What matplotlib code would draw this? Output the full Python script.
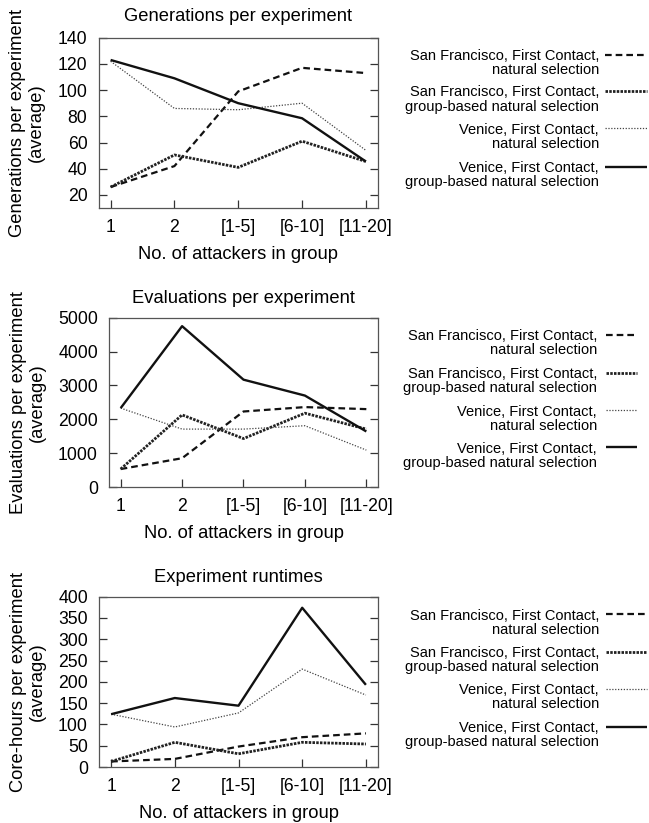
import matplotlib
matplotlib.use("Agg")
import matplotlib.pyplot as plt
from matplotlib.lines import Line2D

plt.rcParams['font.family'] = ['Liberation Sans', 'DejaVu Sans']

categories = ["1", "2", "[1-5]", "[6-10]", "[11-20]"]
series_labels = [
    "San Francisco, First Contact,\nnatural selection",
    "San Francisco, First Contact,\ngroup-based natural selection",
    "Venice, First Contact,\nnatural selection",
    "Venice, First Contact,\ngroup-based natural selection",
]

gen_sf_ns = [26, 42, 99, 117, 113]
gen_sf_gb = [26, 50.5, 41, 61, 45.5]
gen_ve_ns = [122, 86, 85, 90, 54]
gen_ve_gb = [123, 109, 90, 78.5, 45.5]

eval_sf_ns = [530, 850, 2230, 2360, 2300]
eval_sf_gb = [530, 2130, 1430, 2180, 1710]
eval_ve_ns = [2330, 1710, 1710, 1810, 1090]
eval_ve_gb = [2330, 4750, 3170, 2700, 1640]

rt_sf_ns = [13, 19, 48, 70, 79]
rt_sf_gb = [13, 58, 31, 58, 54]
rt_ve_ns = [124, 94, 127, 230, 169]
rt_ve_gb = [124, 162, 144, 374, 193]

styles = [
    dict(color='#111111', lw=1.6, linestyle=(0, (3.0, 1.8))),
    dict(color='#222222', lw=2.0, linestyle=(0, (0.9, 0.45))),
    dict(color='#444444', lw=0.9, linestyle=(0, (1.0, 1.3))),
    dict(color='#111111', lw=1.7, linestyle='-'),
]

W, H = 649, 823
fig = plt.figure(figsize=(W / 100, H / 100), dpi=100)

panels = [
    dict(box=(98.5, 378, 37.7, 208), data=[gen_sf_ns, gen_sf_gb, gen_ve_ns, gen_ve_gb],
         ylim=(10, 140), yticks=[20, 40, 60, 80, 100, 120, 140], title_pad=12,
         title="Generations per experiment", ylabel="Generations per experiment\n(average)",
         leg_rows=[54.5, 91, 128.3, 166.7], leg_text_x=599, leg_handle=(605, 647)),
    dict(box=(109, 378, 317.7, 487), data=[eval_sf_ns, eval_sf_gb, eval_ve_ns, eval_ve_gb],
         ylim=(0, 5000), yticks=[0, 1000, 2000, 3000, 4000, 5000], title_pad=10.5,
         title="Evaluations per experiment", ylabel="Evaluations per experiment\n(average)",
         leg_rows=[335, 372.7, 410, 447.3], leg_text_x=597, leg_handle=(606, 637)),
    dict(box=(99, 378, 596.7, 767), data=[rt_sf_ns, rt_sf_gb, rt_ve_ns, rt_ve_gb],
         ylim=(0, 400), yticks=[0, 50, 100, 150, 200, 250, 300, 350, 400], title_pad=10.5,
         title="Experiment runtimes", ylabel="Core-hours per experiment\n(average)",
         leg_rows=[614, 651.7, 689, 726.7], leg_text_x=599, leg_handle=(606, 647)),
]

x = list(range(len(categories)))
for p in panels:
    l, r, t, b = p['box']
    ax = fig.add_axes([l / W, 1 - b / H, (r - l) / W, (b - t) / H])
    for vals, st, lab in zip(p['data'], styles, series_labels):
        ax.plot(x, vals, label=lab, solid_capstyle='butt', dash_capstyle='butt', **st)
    ax.set_xlim(-0.19, 4.19)
    ax.set_ylim(*p['ylim'])
    ax.set_yticks(p['yticks'])
    ax.set_xticks(x)
    ax.set_xticklabels(categories)
    for s in ax.spines.values():
        s.set_color('#555555')
        s.set_linewidth(0.9)
    ax.tick_params(axis='y', which='both', direction='in', left=True, right=True,
                   length=6, width=0.9, color='#333333', labelsize=12.7, pad=8)
    ax.tick_params(axis='x', which='both', direction='in', bottom=True, top=False,
                   length=6, width=0.9, color='#333333', labelsize=12.7, pad=8)
    ax.set_title(p['title'], fontsize=13.2, pad=p['title_pad'])
    ax.set_xlabel("No. of attackers in group", fontsize=13.2, labelpad=7)
    ax.set_ylabel(p['ylabel'], fontsize=13.2, labelpad=9, linespacing=1.15)

    # legend (drawn beside each panel, handle aligned with the first label line)
    hx0, hx1 = p['leg_handle']
    for row, st, lab in zip(p['leg_rows'], styles, series_labels):
        fig.text(p['leg_text_x'] / W, 1 - (row + 8.5) / H, lab, ha='right', va='center',
                 multialignment='right', fontsize=10.5, linespacing=1.0)
        fig.add_artist(Line2D([hx0 / W, hx1 / W], [1 - row / H, 1 - row / H],
                              transform=fig.transFigure, solid_capstyle='butt',
                              dash_capstyle='butt', **st))

fig.savefig("out.png", dpi=100)
